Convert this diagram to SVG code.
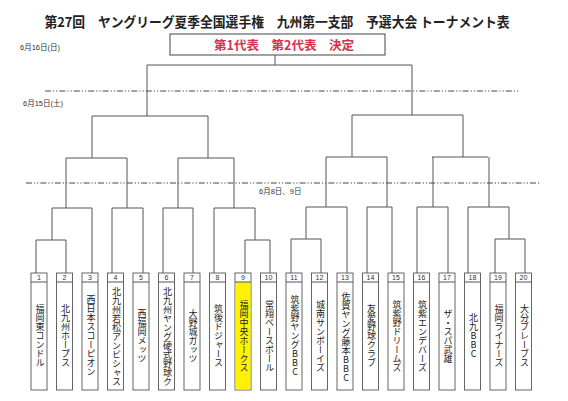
<svg xmlns="http://www.w3.org/2000/svg" width="568" height="401" viewBox="0 0 568 401">
<style>
.ln{stroke:#555;stroke-width:1;fill:none}
.dash{stroke:#444;stroke-width:1;fill:none;stroke-dasharray:6 2 1.2 2 1.2 2}
.box{fill:#fff;stroke:#555;stroke-width:0.9}
.num{font-family:"Liberation Sans",sans-serif;font-size:7px;fill:#333;text-anchor:middle}
.name{font-family:"Noto Sans CJK JP",sans-serif;font-size:9px;fill:#222;writing-mode:vertical-rl;text-orientation:upright;text-anchor:middle}
.date{font-family:"Liberation Sans","Noto Sans CJK JP",sans-serif;font-size:7.5px;fill:#333}
</style>
<rect width="568" height="401" fill="#fff"/>
<text x="277" y="27" font-family="Noto Sans CJK JP,sans-serif" font-size="13.5" font-weight="bold" fill="#222" text-anchor="middle" textLength="465" lengthAdjust="spacingAndGlyphs">第27回　ヤングリーグ夏季全国選手権　九州第一支部　予選大会 トーナメント表</text>
<g id="result-box">
<rect x="170" y="34" width="215" height="21" fill="#fff" stroke="#444" stroke-width="1"/>
<text x="284" y="50" font-family="Noto Sans CJK JP,sans-serif" font-size="12.5" font-weight="bold" fill="#d6304e" text-anchor="middle" textLength="140" lengthAdjust="spacingAndGlyphs">第1代表　第2代表　決定</text>
</g>
<text class="date" x="20" y="50">6月16日(日)</text>
<text class="date" x="23" y="106">6月15日(土)</text>
<text class="date" x="259" y="194">6月8日、9日</text>
<line class="dash" x1="45" y1="91" x2="519" y2="91"/>
<line class="dash" x1="26" y1="183" x2="540" y2="183"/>
<g id="connectors">
<path class="ln" d="M275 55V65M147 65H412"/>
<path class="ln" d="M147 65V116M92 116H208M92 116V158M208 116V158M66 158H127M178 158H234"/>
<path class="ln" d="M66 158V208M127 158V208M178 158V208M234 158V208"/>
<path class="ln" d="M52 208H92M112 208H143M163 208H193M214 208H255"/>
<path class="ln" d="M52 208V240M36 240H66M36 240V273M66 240V273M92 208V273M112 208V273M143 208V273M163 208V273M193 208V273M214 208V273M255 208V240M245 240H270M245 240V273M270 240V273"/>
<path class="ln" d="M412 65V115M352 115H463M352 115V157M463 115V157M326 157H387M432 157H488"/>
<path class="ln" d="M326 157V207M387 157V207M433 157V207M489 157V207"/>
<path class="ln" d="M306 207H347M367 207H392M417 207H448M468 207H509"/>
<path class="ln" d="M306 207V239M291 239H321M291 239V273M321 239V273M347 207V273M367 207V273M392 207V273M417 207V273M448 207V273M468 207V273M509 207V239M495 239H525M495 239V273M525 239V273"/>
</g>
<g id="t1"><rect class="box" x="31" y="273" width="16" height="117"/><line class="ln" x1="31" y1="282" x2="47" y2="282"/><text class="num" x="39" y="280">1</text><text class="name" x="40" y="336">福岡東コンドル</text></g>
<g id="t2"><rect class="box" x="56.5" y="273" width="16" height="117"/><line class="ln" x1="56.5" y1="282" x2="72.5" y2="282"/><text class="num" x="64.5" y="280">2</text><text class="name" x="65.5" y="336">北九州ホープス</text></g>
<g id="t3"><rect class="box" x="82" y="273" width="16" height="117"/><line class="ln" x1="82" y1="282" x2="98" y2="282"/><text class="num" x="90" y="280">3</text><text class="name" x="91" y="336">西日本スコーピオン</text></g>
<g id="t4"><rect class="box" x="107.5" y="273" width="16" height="117"/><line class="ln" x1="107.5" y1="282" x2="123.5" y2="282"/><text class="num" x="115.5" y="280">4</text><text class="name" x="116.5" y="337">北九州若松アンビシャス</text></g>
<g id="t5"><rect class="box" x="133" y="273" width="16" height="117"/><line class="ln" x1="133" y1="282" x2="149" y2="282"/><text class="num" x="141" y="280">5</text><text class="name" x="142" y="336">西福岡メッツ</text></g>
<g id="t6"><rect class="box" x="158.5" y="273" width="16" height="117"/><line class="ln" x1="158.5" y1="282" x2="174.5" y2="282"/><text class="num" x="166.5" y="280">6</text><text class="name" x="167.5" y="337">北九州ヤング硬式野球ク</text></g>
<g id="t7"><rect class="box" x="184" y="273" width="16" height="117"/><line class="ln" x1="184" y1="282" x2="200" y2="282"/><text class="num" x="192" y="280">7</text><text class="name" x="193" y="336">大野城ガッツ</text></g>
<g id="t8"><rect class="box" x="209.5" y="273" width="16" height="117"/><line class="ln" x1="209.5" y1="282" x2="225.5" y2="282"/><text class="num" x="217.5" y="280">8</text><text class="name" x="218.5" y="336">筑後ドジャース</text></g>
<g id="t9"><rect class="box" x="235" y="273" width="16" height="117"/><rect x="235.5" y="282" width="15" height="107.5" fill="#fff200"/><line class="ln" x1="235" y1="282" x2="251" y2="282"/><text class="num" x="243" y="280">9</text><text class="name" x="244" y="336">福岡中央ホークス</text></g>
<g id="t10"><rect class="box" x="260.5" y="273" width="16" height="117"/><line class="ln" x1="260.5" y1="282" x2="276.5" y2="282"/><text class="num" x="268.5" y="280">10</text><text class="name" x="269.5" y="336">常翔ベースボール</text></g>
<g id="t11"><rect class="box" x="286" y="273" width="16" height="117"/><line class="ln" x1="286" y1="282" x2="302" y2="282"/><text class="num" x="294" y="280">11</text><text class="name" x="295" y="336">筑紫野ヤングBBC</text></g>
<g id="t12"><rect class="box" x="311.5" y="273" width="16" height="117"/><line class="ln" x1="311.5" y1="282" x2="327.5" y2="282"/><text class="num" x="319.5" y="280">12</text><text class="name" x="320.5" y="336">城南サンボーイズ</text></g>
<g id="t13"><rect class="box" x="337" y="273" width="16" height="117"/><line class="ln" x1="337" y1="282" x2="353" y2="282"/><text class="num" x="345" y="280">13</text><text class="name" x="346" y="337">佐賀ヤング藤本BBC</text></g>
<g id="t14"><rect class="box" x="362.5" y="273" width="16" height="117"/><line class="ln" x1="362.5" y1="282" x2="378.5" y2="282"/><text class="num" x="370.5" y="280">14</text><text class="name" x="371.5" y="336">友愛野球クラブ</text></g>
<g id="t15"><rect class="box" x="388" y="273" width="16" height="117"/><line class="ln" x1="388" y1="282" x2="404" y2="282"/><text class="num" x="396" y="280">15</text><text class="name" x="397" y="336">筑紫野ドリームズ</text></g>
<g id="t16"><rect class="box" x="413.5" y="273" width="16" height="117"/><line class="ln" x1="413.5" y1="282" x2="429.5" y2="282"/><text class="num" x="421.5" y="280">16</text><text class="name" x="422.5" y="336">筑紫エンデバーズ</text></g>
<g id="t17"><rect class="box" x="439" y="273" width="16" height="117"/><line class="ln" x1="439" y1="282" x2="455" y2="282"/><text class="num" x="447" y="280">17</text><text class="name" x="448" y="336">ザ・スパ武雄</text></g>
<g id="t18"><rect class="box" x="464.5" y="273" width="16" height="117"/><line class="ln" x1="464.5" y1="282" x2="480.5" y2="282"/><text class="num" x="472.5" y="280">18</text><text class="name" x="473.5" y="336">北九BBC</text></g>
<g id="t19"><rect class="box" x="490" y="273" width="16" height="117"/><line class="ln" x1="490" y1="282" x2="506" y2="282"/><text class="num" x="498" y="280">19</text><text class="name" x="499" y="336">福岡ライナーズ</text></g>
<g id="t20"><rect class="box" x="515.5" y="273" width="16" height="117"/><line class="ln" x1="515.5" y1="282" x2="531.5" y2="282"/><text class="num" x="523.5" y="280">20</text><text class="name" x="524.5" y="336">大分ブレーブス</text></g>
</svg>
